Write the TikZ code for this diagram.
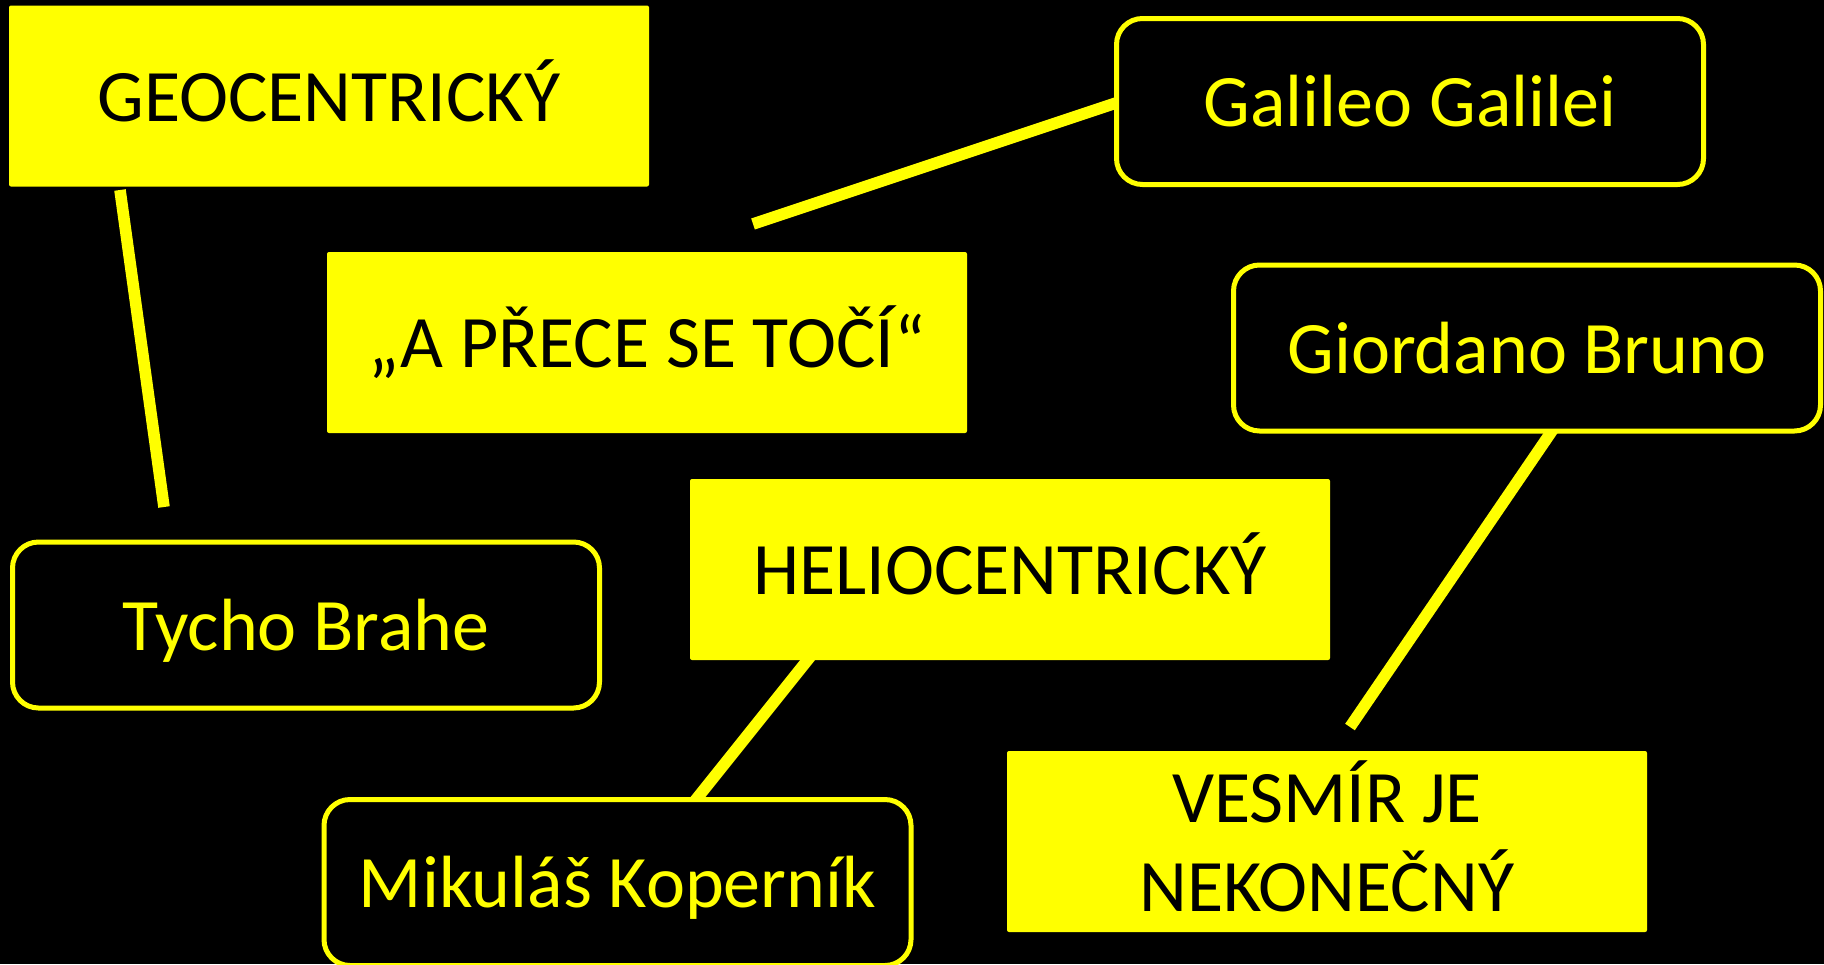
\documentclass[tikz,border=0pt]{standalone}
\usepackage{fontspec}
\setmainfont{Carlito}
\definecolor{hl}{RGB}{255,255,0}
\tikzset{
  boxfont/.style={font=\fontsize{37}{44.5}\selectfont},
  fillbase/.style={rectangle, fill=hl, text=black, rounded corners=1pt,
    minimum width=320pt, minimum height=90.5pt, inner sep=0pt,
    align=center, boxfont},
  fillbox/.style={fillbase, text height=34.4pt, text depth=9pt},
  linebox/.style={rectangle, draw=hl, line width=2.5pt, fill=black, text=hl,
    rounded corners=13pt, minimum width=293.5pt, minimum height=83pt,
    inner sep=0pt, align=center, boxfont, text height=34.4pt, text depth=9pt},
  conn/.style={draw=hl, line width=5.8pt, line cap=butt}
}
\begin{document}
\begin{tikzpicture}[x=0.5pt,y=-0.5pt]
\fill[black] (0,0) rectangle (1824,964);
\useasboundingbox (0,0) rectangle (1824,964);
% connector end points
\coordinate (g1) at (120,190);
\coordinate (g2) at (164,507);
\coordinate (p1) at (753,224);
\coordinate (p2) at (1125,100);
\coordinate (h1) at (814,652);
\coordinate (h2) at (694,802);
\coordinate (b1) at (1556,425);
\coordinate (b2) at (1350,727);
\draw[conn] (g1) -- (g2);
\draw[conn] (p1) -- (p2);
\draw[conn] (h1) -- (h2);
\draw[conn] (b1) -- (b2);
% boxes
\node[fillbox] (geo) at (329,96) {GEOCENTRICKÝ};
\node[fillbox] (prece) at (647,342.5) {„A PŘECE SE TOČÍ“};
\node[fillbox] (helio) at (1010,569.5) {HELIOCENTRICKÝ};
\node[fillbase] (vesmir) at (1327,841.5)
  {\rule{0pt}{34.4pt}VESMÍR JE\\NEKONEČNÝ\rule[-9pt]{0pt}{9pt}};
\node[linebox] (galileo) at (1410,101.5) {Galileo Galilei};
\node[linebox] (bruno) at (1527,348) {Giordano Bruno};
\node[linebox] (tycho) at (306,625) {Tycho Brahe};
\node[linebox] (kop) at (617.5,882.5) {Mikuláš Koperník};
\end{tikzpicture}
\end{document}
